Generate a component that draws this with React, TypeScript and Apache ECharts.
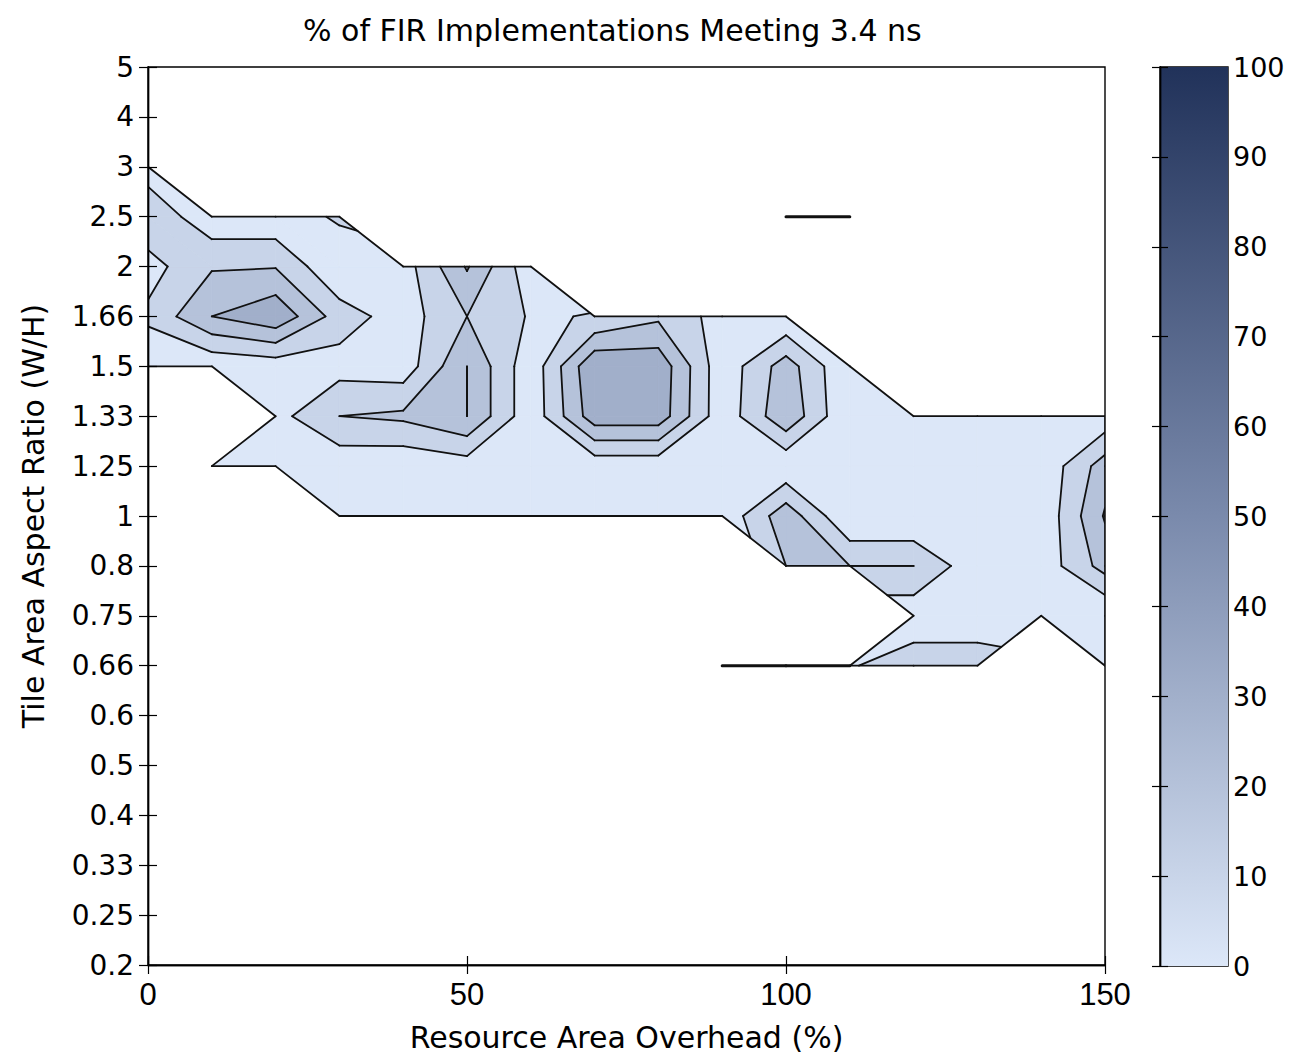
import React, { useEffect, useRef } from "react";
import * as echarts from "echarts";

// Resource area overhead (%) sampled along x
const overheadPct = [0, 10, 20, 30, 40, 50, 60, 70, 80, 90, 100, 110, 120, 130, 140, 150];

// Tile aspect ratios (W/H), plotted at evenly spaced positions
const aspectRatioLabels = [
  "0.2", "0.25", "0.33", "0.4", "0.5", "0.6", "0.66", "0.75", "0.8", "1",
  "1.25", "1.33", "1.5", "1.66", "2", "2.5", "3", "4", "5",
];

const contourLevels = [10, 20, 30];
const colorbarTicks = [0, 10, 20, 30, 40, 50, 60, 70, 80, 90, 100];

// % of implementations meeting 3.4 ns, one array per aspect ratio
// (null = no implementation at that combination)
const _ = null;
const ar0_2 = [_, _, _, _, _, _, _, _, _, _, _, _, _, _, _, _];
const ar0_25 = [_, _, _, _, _, _, _, _, _, _, _, _, _, _, _, _];
const ar0_33 = [_, _, _, _, _, _, _, _, _, _, _, _, _, _, _, _];
const ar0_4 = [_, _, _, _, _, _, _, _, _, _, _, _, _, _, _, _];
const ar0_5 = [_, _, _, _, _, _, _, _, _, _, _, _, _, _, _, _];
const ar0_6 = [_, _, _, _, _, _, _, _, _, _, _, _, _, _, _, _];
const ar0_66 = [_, _, _, _, _, _, _, _, _, 0, 0, 9, 16, 16, _, 0];
const ar0_75 = [_, _, _, _, _, _, _, _, _, _, _, _, 3, 3, 0, 0];
const ar0_8 = [_, _, _, _, _, _, _, _, _, _, 20, 20, 20, 3, 3.5, 24];
const ar1 = [_, _, _, 1, 1, 1, 1, 1, 1, 2, 26.5, 0, 0, 1, 2, 31];
const ar1_25 = [_, 2, 2, 3, 2, 5, 2, 3, 3, 2, 1.5, 1, 1, 1, 2, 25];
const ar1_33 = [_, _, 6.5, 20, 22, 30, 3, 36, 36, 3, 28, 0, 0, 0, 1, 3];
const ar1_5 = [2, 2, 4, 6, 4, 30, 3, 39, 37, 3, 25, 0, _, _, _, _];
const ar1_66 = [12, 30, 38, 15, 5, 20, 9, 10.5, 18, 6, 1, _, _, _, _, _];
const ar2 = [6, 19, 19.4, 0.6, 5, 31, 3, _, _, _, _, _, _, _, _, _];
const ar2_5 = [18, 2.6, 2.3, 12, _, _, _, _, _, _, 0, 0, _, _, _, _];
const ar3 = [4.7, _, _, _, _, _, _, _, _, _, _, _, _, _, _, _];
const ar4 = [_, _, _, _, _, _, _, _, _, _, _, _, _, _, _, _];
const ar5 = [_, _, _, _, _, _, _, _, _, _, _, _, _, _, _, _];

const pctRows: (number | null)[][] = [
  ar0_2, ar0_25, ar0_33, ar0_4, ar0_5, ar0_6, ar0_66, ar0_75, ar0_8, ar1,
  ar1_25, ar1_33, ar1_5, ar1_66, ar2, ar2_5, ar3, ar4, ar5,
];

// Blue-grey colormap over 0..100 %
const colormapStops: [number, [number, number, number]][] = [
  [0, [220, 231, 248]],
  [0.5, [122, 138, 172]],
  [1, [33, 50, 90]],
];

function colorAt(t: number): string {
  const s = colormapStops;
  let k = 0;
  while (k < s.length - 2 && t > s[k + 1][0]) k++;
  const [t0, c0] = s[k];
  const [t1, c1] = s[k + 1];
  const f = Math.max(0, Math.min(1, (t - t0) / (t1 - t0)));
  const c = c0.map((v, n) => Math.round(v + (c1[n] - v) * f));
  return `rgb(${c[0]},${c[1]},${c[2]})`;
}

const bandColors = [colorAt(0), ...contourLevels.map((l) => colorAt(l / 100))];

type Pt = { x: number; y: number; z: number };

function clipPoly(poly: Pt[], level: number, keepAbove: boolean): Pt[] {
  const out: Pt[] = [];
  const n = poly.length;
  for (let k = 0; k < n; k++) {
    const a = poly[k];
    const b = poly[(k + 1) % n];
    const aIn = keepAbove ? a.z >= level : a.z <= level;
    const bIn = keepAbove ? b.z >= level : b.z <= level;
    if (aIn) out.push(a);
    if (aIn !== bIn) {
      const t = (level - a.z) / (b.z - a.z);
      out.push({ x: a.x + t * (b.x - a.x), y: a.y + t * (b.y - a.y), z: level });
    }
  }
  return out;
}

function polyArea(poly: Pt[]): number {
  let s = 0;
  for (let k = 0; k < poly.length; k++) {
    const a = poly[k];
    const b = poly[(k + 1) % poly.length];
    s += a.x * b.y - b.x * a.y;
  }
  return s / 2;
}

function crossings(poly: Pt[], level: number): number[][] {
  const pts: number[][] = [];
  for (let k = 0; k < poly.length; k++) {
    const a = poly[k];
    const b = poly[(k + 1) % poly.length];
    const aIn = a.z >= level;
    const bIn = b.z >= level;
    if (aIn !== bIn) {
      const t = (level - a.z) / (b.z - a.z);
      pts.push([a.x + t * (b.x - a.x), a.y + t * (b.y - a.y)]);
    }
  }
  return pts;
}

type Fill = { pts: number[][]; band: number };

const LINE_W = 1.8;
const ISOLATED_W = 3;

// Filled contour bands, contour lines and the outline of the sampled region
function buildContours() {
  const fills: Fill[] = [];
  const lines: number[][] = [];
  const edgeUse = new Map<string, number>();
  const nCols = overheadPct.length;
  const nRows = pctRows.length;

  const key = (i1: number, j1: number, i2: number, j2: number) =>
    i1 < i2 || (i1 === i2 && j1 < j2) ? `${i1},${j1},${i2},${j2}` : `${i2},${j2},${i1},${j1}`;
  const bump = (a: number[], b: number[]) => {
    const k = key(a[0], a[1], b[0], b[1]);
    edgeUse.set(k, (edgeUse.get(k) || 0) + 1);
  };
  const nodeAt = (i: number, j: number): Pt | null => {
    const z = pctRows[j][i];
    return z === null ? null : { x: overheadPct[i], y: j, z };
  };

  for (let j = 0; j < nRows - 1; j++) {
    for (let i = 0; i < nCols - 1; i++) {
      const idx = [[i, j], [i + 1, j], [i + 1, j + 1], [i, j + 1]];
      const c = idx.map(([a, b]) => nodeAt(a, b));
      const nValid = c.filter((p) => p).length;
      const pieces: Pt[][] = [];
      if (nValid === 4) {
        const q = c as Pt[];
        for (let k = 0; k < 4; k++) bump(idx[k], idx[(k + 1) % 4]);
        const saddleLevel = contourLevels.find((L) => {
          const s = q.map((p) => p.z >= L);
          return s[0] === s[2] && s[1] === s[3] && s[0] !== s[1];
        });
        if (saddleLevel !== undefined) {
          // resolve the saddle from the cell mean: split along the diagonal
          // that joins the high corners (connected) or the low corners (separated)
          const mean = (q[0].z + q[1].z + q[2].z + q[3].z) / 4;
          const highOn02 = q[0].z >= saddleLevel;
          const connected = mean >= saddleLevel;
          const along02 = highOn02 === connected;
          if (along02) {
            pieces.push([q[0], q[1], q[2]], [q[0], q[2], q[3]]);
          } else {
            pieces.push([q[0], q[1], q[3]], [q[1], q[2], q[3]]);
          }
        } else {
          pieces.push(q);
        }
      } else if (nValid === 3) {
        const m = c.findIndex((p) => !p);
        const a = (m + 1) % 4;
        const b = (m + 2) % 4;
        const d = (m + 3) % 4;
        bump(idx[a], idx[b]);
        bump(idx[b], idx[d]);
        const pa = c[a] as Pt;
        const pd = c[d] as Pt;
        pieces.push([pa, c[b] as Pt, pd]);
        lines.push([pa.x, pa.y, pd.x, pd.y, LINE_W]);
      }
      for (const piece of pieces) {
        for (let band = 0; band <= contourLevels.length; band++) {
          let poly = piece;
          if (band > 0) poly = clipPoly(poly, contourLevels[band - 1], true);
          if (band < contourLevels.length) poly = clipPoly(poly, contourLevels[band], false);
          if (poly.length < 3 || Math.abs(polyArea(poly)) < 1e-7) continue;
          fills.push({ pts: poly.map((p) => [p.x, p.y]), band });
        }
        for (const L of contourLevels) {
          const cr = crossings(piece, L);
          if (cr.length === 2 && (cr[0][0] !== cr[1][0] || cr[0][1] !== cr[1][1])) {
            lines.push([cr[0][0], cr[0][1], cr[1][0], cr[1][1], LINE_W]);
          }
        }
      }
    }
  }

  // grid edges on the rim of the sampled region; isolated edges are drawn heavier
  for (let j = 0; j < nRows; j++) {
    for (let i = 0; i < nCols; i++) {
      const p = nodeAt(i, j);
      if (!p) continue;
      const right = i + 1 < nCols ? nodeAt(i + 1, j) : null;
      const up = j + 1 < nRows ? nodeAt(i, j + 1) : null;
      for (const [q, ii, jj] of [[right, i + 1, j], [up, i, j + 1]] as [Pt | null, number, number][]) {
        if (!q) continue;
        const n = edgeUse.get(key(i, j, ii, jj)) || 0;
        if (n === 1) lines.push([p.x, p.y, q.x, q.y, LINE_W]);
        else if (n === 0) lines.push([p.x, p.y, q.x, q.y, ISOLATED_W]);
      }
    }
  }
  return { fills, lines };
}

const FONT = "DejaVu Sans";

function buildOption() {
  const { fills, lines } = buildContours();
  const black = "#000";
  const tickStyle = { show: true, inside: true, length: 9, lineStyle: { color: black, width: 1.2 } };
  const lineStyle = { show: true, lineStyle: { color: black, width: 1.4 } };

  return {
    animation: false,
    backgroundColor: "#fff",
    title: {
      text: "% of FIR Implementations Meeting 3.4 ns",
      left: 298,
      top: 10,
      textStyle: { fontFamily: FONT, fontSize: 30, fontWeight: "normal", color: black },
    },
    grid: [
      { left: 148, top: 67, width: 957, height: 898, show: true, borderColor: black, borderWidth: 1.4 },
      { left: 1160, top: 67, width: 68, height: 899, show: true, borderColor: black, borderWidth: 1.4 },
    ],
    xAxis: [
      {
        type: "value", gridIndex: 0, min: 0, max: 150, interval: 50, position: "bottom", z: 5,
        axisLine: lineStyle, axisTick: tickStyle, splitLine: { show: false },
        axisLabel: { margin: 14, fontFamily: "Liberation Sans", fontSize: 31, color: black },
        name: "Resource Area Overhead (%)", nameLocation: "middle", nameGap: 57,
        nameTextStyle: { fontFamily: FONT, fontSize: 30, color: black },
      },
      {
        type: "value", gridIndex: 0, min: 0, max: 150, interval: 50, position: "top", z: 5,
        axisLine: lineStyle, axisTick: tickStyle, splitLine: { show: false }, axisLabel: { show: false },
      },
      { type: "value", gridIndex: 1, min: 0, max: 1, show: false },
    ],
    yAxis: [
      {
        type: "value", gridIndex: 0, min: 0, max: 18, interval: 1, position: "left", z: 5,
        axisLine: lineStyle, axisTick: tickStyle, splitLine: { show: false },
        axisLabel: {
          margin: 14, fontFamily: FONT, fontSize: 28, color: black,
          formatter: (v: number) => aspectRatioLabels[Math.round(v)] ?? "",
        },
        name: "Tile Area Aspect Ratio (W/H)", nameLocation: "middle", nameGap: 100, nameRotate: 90,
        nameTextStyle: { fontFamily: FONT, fontSize: 30, color: black },
      },
      {
        type: "value", gridIndex: 0, min: 0, max: 18, interval: 1, position: "right", z: 5,
        axisLine: lineStyle, axisTick: tickStyle, splitLine: { show: false }, axisLabel: { show: false },
      },
      {
        type: "value", gridIndex: 1, min: colorbarTicks[0], max: colorbarTicks[colorbarTicks.length - 1],
        interval: 10, position: "right", z: 5,
        axisLine: lineStyle, axisTick: { ...tickStyle, length: 8 }, splitLine: { show: false },
        axisLabel: { margin: 5, fontFamily: FONT, fontSize: 27, color: black },
      },
      {
        type: "value", gridIndex: 1, min: colorbarTicks[0], max: colorbarTicks[colorbarTicks.length - 1],
        interval: 10, position: "left", z: 5,
        axisLine: lineStyle, axisTick: { ...tickStyle, length: 8 }, splitLine: { show: false },
        axisLabel: { show: false },
      },
    ],
    series: [
      {
        type: "custom",
        name: "bands",
        xAxisIndex: 0,
        yAxisIndex: 0,
        clip: true,
        silent: true,
        z: 2,
        data: fills.map((f, i) => [f.pts[0][0], f.pts[0][1], i]),
        encode: { x: 0, y: 1 },
        renderItem: (_p: any, api: any) => {
          const f = fills[api.value(2)];
          const color = bandColors[f.band];
          return {
            type: "polygon",
            shape: { points: f.pts.map((pt) => api.coord(pt)) },
            style: { fill: color, stroke: color, lineWidth: 0.8 },
          };
        },
      },
      {
        type: "custom",
        name: "contours",
        xAxisIndex: 0,
        yAxisIndex: 0,
        clip: true,
        silent: true,
        z: 3,
        data: lines,
        encode: { x: [0, 2], y: [1, 3] },
        renderItem: (_p: any, api: any) => {
          const a = api.coord([api.value(0), api.value(1)]);
          const b = api.coord([api.value(2), api.value(3)]);
          return {
            type: "line",
            shape: { x1: a[0], y1: a[1], x2: b[0], y2: b[1] },
            style: { stroke: "#111", lineWidth: api.value(4), lineCap: "round" },
          };
        },
      },
      {
        type: "custom",
        name: "colorbar",
        xAxisIndex: 2,
        yAxisIndex: 2,
        silent: true,
        z: 2,
        data: [[0, colorbarTicks[0], 1, colorbarTicks[colorbarTicks.length - 1]]],
        encode: { x: [0, 2], y: [1, 3] },
        renderItem: (_p: any, api: any) => {
          const p0 = api.coord([api.value(0), api.value(1)]);
          const p1 = api.coord([api.value(2), api.value(3)]);
          return {
            type: "rect",
            shape: { x: p0[0], y: p1[1], width: p1[0] - p0[0], height: p0[1] - p1[1] },
            style: {
              fill: {
                type: "linear", x: 0, y: 1, x2: 0, y2: 0,
                colorStops: colormapStops.map(([o, c]) => ({ offset: o, color: `rgb(${c[0]},${c[1]},${c[2]})` })),
              },
            },
          };
        },
      },
    ],
  };
}

export default function App() {
  const ref = useRef<HTMLDivElement>(null);
  useEffect(() => {
    if (!ref.current) return;
    const chart = echarts.init(ref.current, null, { renderer: "svg" });
    chart.setOption(buildOption() as any);
    return () => chart.dispose();
  }, []);
  return (
    <div
      ref={ref}
      style={{ position: "fixed", left: 0, top: 0, width: 1290, height: 1058, background: "#fff" }}
    />
  );
}
